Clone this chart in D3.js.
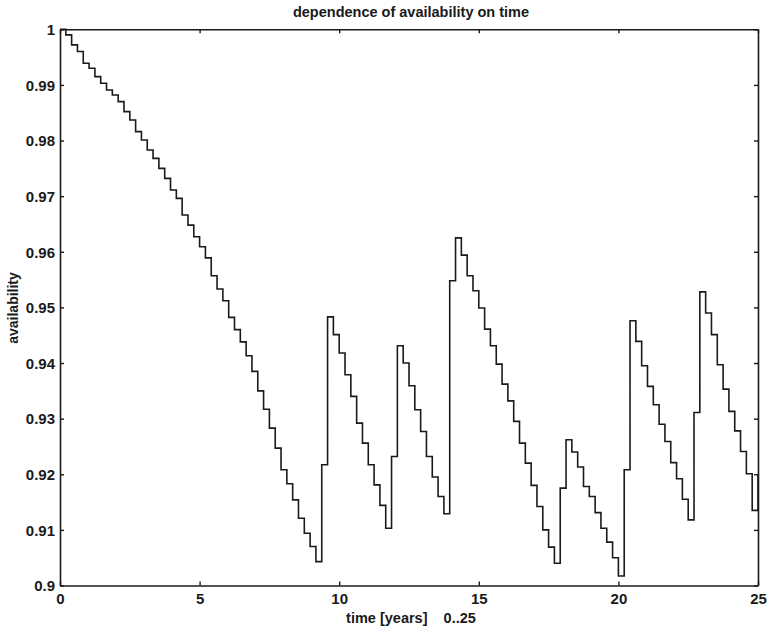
<!DOCTYPE html>
<html>
<head>
<meta charset="utf-8">
<script src="https://cdn.jsdelivr.net/npm/d3@7"></script>
<style>
  html, body { margin: 0; padding: 0; background: #ffffff; }
  svg { display: block; }
  text { font-family: "Liberation Sans", Arial, Helvetica, sans-serif; fill: #1a1a1a; }
</style>
</head>
<body>
<svg id="chart" width="769" height="633"></svg>
<script>
// ---- data ----
const chartTitle = "dependence of availability on time";
const xLabel = "time [years]    0..25";
const yLabel = "availability";
const tStart = 0, tEnd = 25, nSteps = 120;   // simulation grid 0..25 years, 120 intervals
const availability = [
  1.0000, 0.9990, 0.9972, 0.9960, 0.9939, 0.9930, 0.9915, 0.9903, 0.9891, 0.9882,
  0.9870, 0.9852, 0.9837, 0.9816, 0.9801, 0.9783, 0.9768, 0.9750, 0.9732, 0.9711,
  0.9696, 0.9666, 0.9648, 0.9627, 0.9609, 0.9589, 0.9557, 0.9533, 0.9512, 0.9482,
  0.9460, 0.9438, 0.9413, 0.9385, 0.9350, 0.9317, 0.9283, 0.9247, 0.9208, 0.9183,
  0.9154, 0.9121, 0.9094, 0.9070, 0.9043, 0.9217, 0.9483, 0.9451, 0.9418, 0.9379,
  0.9340, 0.9292, 0.9256, 0.9217, 0.9181, 0.9144, 0.9103, 0.9232, 0.9431, 0.9400,
  0.9359, 0.9316, 0.9277, 0.9232, 0.9195, 0.9160, 0.9129, 0.9548, 0.9625, 0.9594,
  0.9557, 0.9530, 0.9499, 0.9461, 0.9431, 0.9398, 0.9362, 0.9332, 0.9295, 0.9256,
  0.9220, 0.9180, 0.9142, 0.9100, 0.9069, 0.9040, 0.9175, 0.9262, 0.9240, 0.9213,
  0.9178, 0.9160, 0.9131, 0.9103, 0.9078, 0.9050, 0.9017, 0.9208, 0.9476, 0.9439,
  0.9395, 0.9358, 0.9325, 0.9290, 0.9259, 0.9221, 0.9192, 0.9155, 0.9118, 0.9311,
  0.9528, 0.9490, 0.9451, 0.9397, 0.9353, 0.9313, 0.9278, 0.9241, 0.9201, 0.9135,
  0.9200
];
const xTicks = [0, 5, 10, 15, 20, 25];
const yTicks = [0.9, 0.91, 0.92, 0.93, 0.94, 0.95, 0.96, 0.97, 0.98, 0.99, 1];
const yTickLabels = ["0.9", "0.91", "0.92", "0.93", "0.94", "0.95", "0.96", "0.97", "0.98", "0.99", "1"];

// ---- layout ----
const svg = d3.select("#chart");
const L = 60, R = 758, T = 29.3, B = 585.5;
const x = d3.scaleLinear().domain([tStart, tEnd]).range([L, R]);
const y = d3.scaleLinear().domain([0.9, 1]).range([B, T]);
const ink = "#1a1a1a";

const points = availability.map((v, i) => [tStart + i * (tEnd - tStart) / nSteps, v]);

// curve
const line = d3.line()
  .x(d => x(d[0]))
  .y(d => y(d[1]))
  .curve(d3.curveStepAfter);

svg.append("path")
  .datum(points)
  .attr("d", line)
  .attr("fill", "none")
  .attr("stroke", ink)
  .attr("stroke-width", 1.6)
  .attr("stroke-linejoin", "miter");

// axes (box with inward ticks on all four sides)
const tickLen = 4;
const fmtY = d => yTickLabels[yTicks.indexOf(d)];

const axB = svg.append("g").attr("transform", `translate(0,${B})`)
  .call(d3.axisBottom(x).tickValues(xTicks).tickSizeInner(-tickLen).tickSizeOuter(0).tickPadding(8).tickFormat(d3.format("d")));
const axT = svg.append("g").attr("transform", `translate(0,${T})`)
  .call(d3.axisTop(x).tickValues(xTicks).tickSizeInner(-tickLen).tickSizeOuter(0).tickFormat(""));
const axL = svg.append("g").attr("transform", `translate(${L},0)`)
  .call(d3.axisLeft(y).tickValues(yTicks).tickSizeInner(-tickLen).tickSizeOuter(0).tickPadding(5).tickFormat(fmtY));
const axR = svg.append("g").attr("transform", `translate(${R},0)`)
  .call(d3.axisRight(y).tickValues(yTicks).tickSizeInner(-tickLen).tickSizeOuter(0).tickFormat(""));

[axB, axT, axL, axR].forEach(g => {
  g.select(".domain").attr("stroke", ink).attr("stroke-width", 1.6);
  g.selectAll(".tick line").attr("stroke", ink).attr("stroke-width", 1.4);
  g.selectAll(".tick text")
    .attr("fill", ink)
    .style("font-size", "15px")
    .style("font-weight", "bold")
    .style("font-family", '"Liberation Sans", Arial, Helvetica, sans-serif');
});
axL.selectAll(".tick text").attr("dy", "0.35em");
axB.selectAll(".tick text").attr("dy", "0.71em");

// title
svg.append("text")
  .attr("x", (L + R) / 2 + 2)
  .attr("y", 17)
  .attr("text-anchor", "middle")
  .style("font-size", "14.5px")
  .style("font-weight", "bold")
  .text(chartTitle);

// x label
svg.append("text")
  .attr("x", 411)
  .attr("y", 623)
  .attr("text-anchor", "middle")
  .style("font-size", "14.5px")
  .style("font-weight", "bold")
  .style("white-space", "pre")
  .attr("xml:space", "preserve")
  .text(xLabel);

// y label
svg.append("text")
  .attr("transform", `translate(18,308) rotate(-90)`)
  .attr("text-anchor", "middle")
  .style("font-size", "14px")
  .style("font-weight", "bold")
  .text(yLabel);
</script>
</body>
</html>
